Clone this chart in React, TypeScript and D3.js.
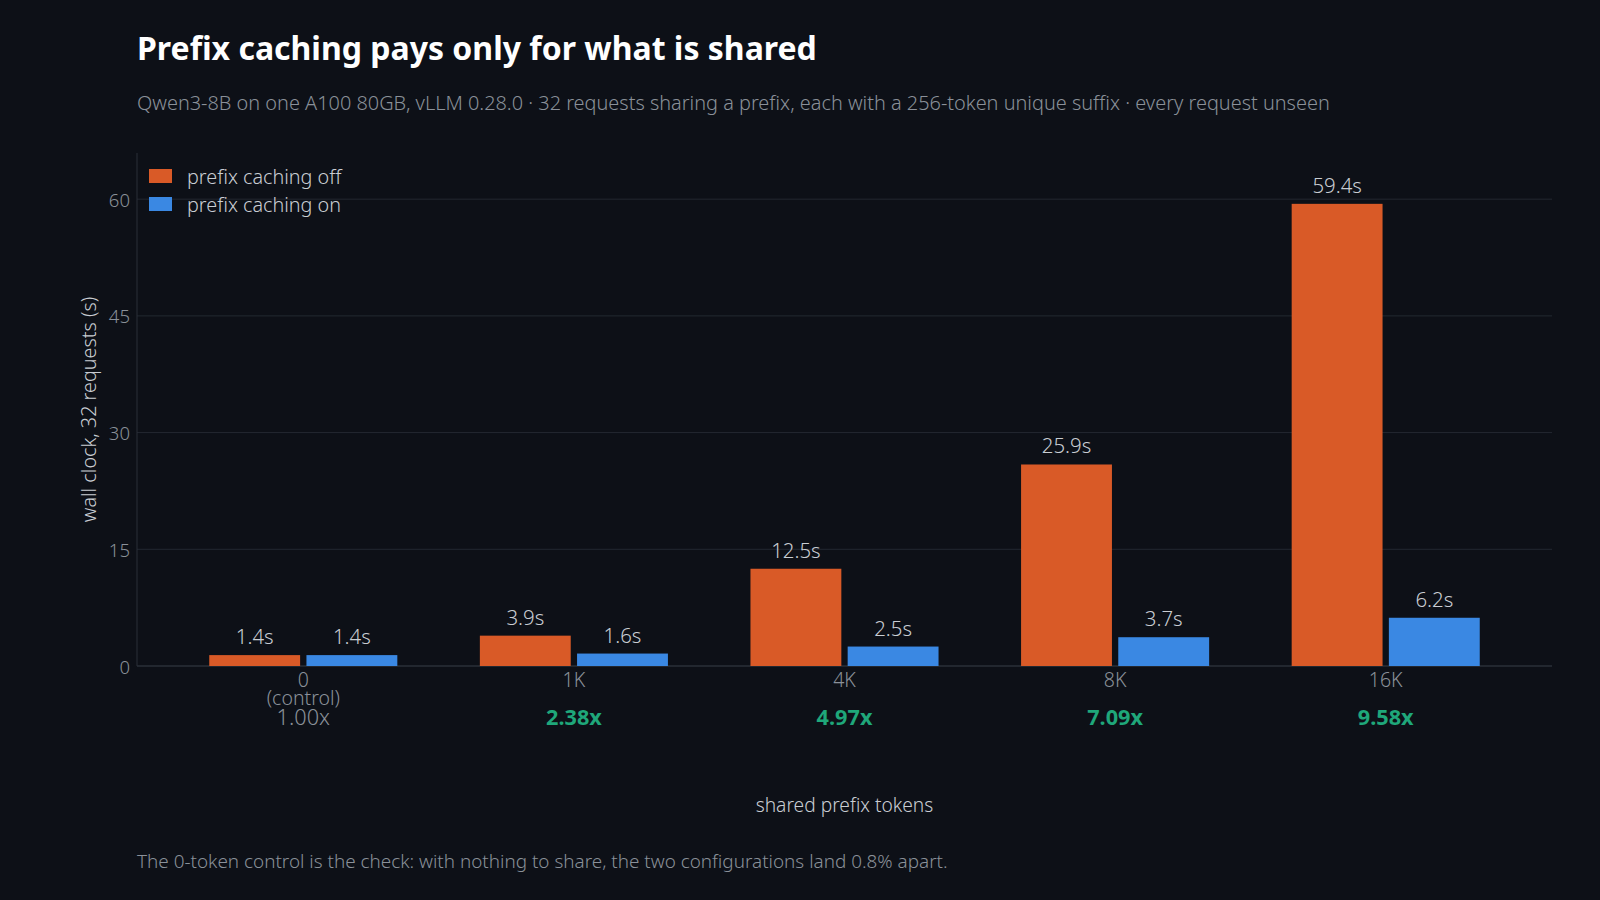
import React, { useEffect, useRef } from 'react';
import * as d3 from 'd3';

// values
const categories = ['0', '1K', '4K', '8K', '16K'];
const categoryNotes = ['(control)', '', '', '', ''];
const seriesNames = ['prefix caching off', 'prefix caching on'];
const cachingOff = [1.4, 3.9, 12.5, 25.9, 59.4];
const cachingOn = [1.4, 1.6, 2.5, 3.7, 6.2];
const speedups = ['1.00x', '2.38x', '4.97x', '7.09x', '9.58x'];
const yTicks = [0, 15, 30, 45, 60];

const W = 1600;
const H = 900;
const margin = { top: 153, right: 48, bottom: 234, left: 137 };
const font = '"Noto Sans", "Open Sans", sans-serif';
const bg = '#0d1017';
const colors = ['#d95a27', '#3a88e3'];
const muted = '#8a9099';
const light = '#c9cdd3';

function App() {
  const ref = useRef<SVGSVGElement>(null);

  useEffect(() => {
    document.body.style.margin = '0';
    document.body.style.background = bg;
    if (!ref.current) return;
    const svg = d3.select(ref.current);
    svg.selectAll('*').remove();

    const innerW = W - margin.left - margin.right;
    const innerH = H - margin.top - margin.bottom;

    svg.append('rect').attr('width', W).attr('height', H).attr('fill', bg);

    svg.append('text')
      .attr('x', margin.left).attr('y', 60)
      .attr('fill', '#ffffff').attr('font-size', 32).attr('font-weight', 700)
      .text('Prefix caching pays only for what is shared');

    svg.append('text')
      .attr('x', margin.left).attr('y', 110)
      .attr('fill', muted).attr('font-size', 19.9).attr('font-weight', 300)
      .text('Qwen3-8B on one A100 80GB, vLLM 0.28.0 · 32 requests sharing a prefix, each with a 256-token unique suffix · every request unseen');

    const g = svg.append('g').attr('transform', `translate(${margin.left},${margin.top})`);

    const x0 = d3.scaleBand<string>().domain(categories).range([0, innerW])
      .paddingInner(0.305).paddingOuter(0.267);
    const x1 = d3.scaleBand<number>().domain([0, 1]).range([0, x0.bandwidth()]).paddingInner(0.065);
    const y = d3.scaleLinear().domain([0, d3.max(cachingOff)! * 1.11]).range([innerH, 0]);

    // grid
    g.selectAll('.grid').data(yTicks.filter(t => t > 0)).enter().append('line')
      .attr('x1', 0).attr('x2', innerW)
      .attr('y1', d => y(d)).attr('y2', d => y(d))
      .attr('stroke', '#232831').attr('stroke-width', 1);

    g.append('line').attr('x1', 0).attr('x2', 0).attr('y1', 0).attr('y2', innerH)
      .attr('stroke', '#2a2f38');
    g.append('line').attr('x1', 0).attr('x2', innerW).attr('y1', innerH).attr('y2', innerH)
      .attr('stroke', '#2a2f38').attr('stroke-width', 1.5);

    g.selectAll('.ytick').data(yTicks).enter().append('text')
      .attr('x', -7).attr('y', d => y(d))
      .attr('text-anchor', 'end').attr('dominant-baseline', 'central')
      .attr('fill', muted).attr('font-size', 18.5).attr('font-weight', 300)
      .text(d => d);

    const series = [cachingOff, cachingOn];
    series.forEach((vals, si) => {
      const bars = g.selectAll(`.bar${si}`).data(vals).enter();
      bars.append('rect')
        .attr('x', (d, i) => x0(categories[i])! + x1(si)!)
        .attr('y', d => y(d))
        .attr('width', x1.bandwidth())
        .attr('height', d => innerH - y(d))
        .attr('fill', colors[si]);
      bars.append('text')
        .attr('x', (d, i) => x0(categories[i])! + x1(si)! + x1.bandwidth() / 2)
        .attr('y', d => y(d) - 11)
        .attr('text-anchor', 'middle')
        .attr('fill', light).attr('font-size', 20.4).attr('font-weight', 300)
        .text(d => `${d.toFixed(1)}s`);
    });

    // category labels, notes and speedups
    const cats = g.selectAll('.cat').data(categories).enter().append('g')
      .attr('transform', d => `translate(${x0(d)! + x0.bandwidth() / 2},${innerH})`);
    cats.append('text').attr('y', 21).attr('text-anchor', 'middle')
      .attr('fill', muted).attr('font-size', 19.5).attr('font-weight', 300).text(d => d);
    cats.append('text').attr('y', 39).attr('text-anchor', 'middle')
      .attr('fill', muted).attr('font-size', 19.5).attr('font-weight', 300).text((d, i) => categoryNotes[i]);
    cats.append('text').attr('y', 59).attr('text-anchor', 'middle')
      .attr('fill', (d, i) => i === 0 ? muted : '#1fa77a')
      .attr('font-weight', (d, i) => i === 0 ? 300 : 700)
      .attr('font-size', 21.7).text((d, i) => speedups[i]);

    g.append('text')
      .attr('x', innerW / 2).attr('y', 812 - margin.top)
      .attr('text-anchor', 'middle').attr('fill', light).attr('font-size', 19.2).attr('font-weight', 300)
      .text('shared prefix tokens');

    g.append('text')
      .attr('transform', `translate(${88 - margin.left},${innerH / 2}) rotate(-90)`)
      .attr('text-anchor', 'middle').attr('dominant-baseline', 'central')
      .attr('fill', light).attr('font-size', 19.8).attr('font-weight', 300)
      .text('wall clock, 32 requests (s)');

    // legend
    const legend = g.append('g').attr('transform', 'translate(12,16)');
    seriesNames.forEach((name, i) => {
      const row = legend.append('g').attr('transform', `translate(0,${i * 28})`);
      row.append('rect').attr('width', 23).attr('height', 14).attr('fill', colors[i]);
      row.append('text').attr('x', 38).attr('y', 7).attr('dominant-baseline', 'central')
        .attr('fill', light).attr('font-size', 19.8).attr('font-weight', 300).text(name);
    });

    svg.append('text')
      .attr('x', margin.left).attr('y', 868)
      .attr('fill', muted).attr('font-size', 18.9).attr('font-weight', 300)
      .text('The 0-token control is the check: with nothing to share, the two configurations land 0.8% apart.');
  }, []);

  return (
    <svg ref={ref} width={W} height={H} style={{ display: 'block', fontFamily: font }} />
  );
}

export default App;
